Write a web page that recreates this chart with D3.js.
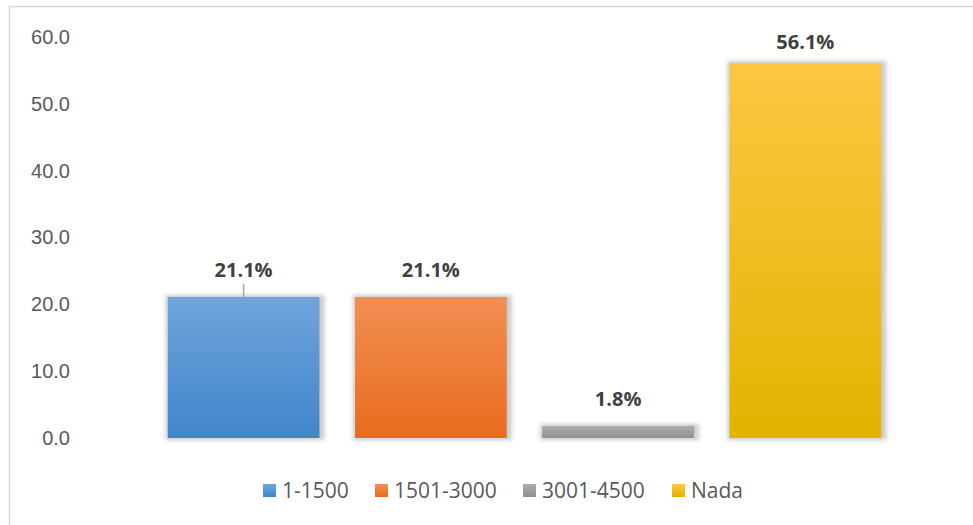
<!DOCTYPE html>
<html>
<head>
<meta charset="utf-8">
<script src="https://cdn.jsdelivr.net/npm/d3@7"></script>
<style>
  body { margin: 0; background: #fff; }
  svg { display: block; font-family: "Open Sans", "Noto Sans", sans-serif; }
</style>
</head>
<body>
<div id="chart"></div>
<script>
// datos del gráfico
const categories = ['1-1500', '1501-3000', '3001-4500', 'Nada'];
const values = [21.1, 21.1, 1.8, 56.1];
const yTicks = [0, 10, 20, 30, 40, 50, 60];
const colorsTop = ['#6fa5dc', '#f28e53', '#acacac', '#ffc642'];
const colorsBottom = ['#4185cb', '#e86c1d', '#8f8f8f', '#e3b300'];

const width = 973, height = 525;
const margin = {top: 37, right: 74, bottom: 87, left: 150};

const svg = d3.select('#chart').append('svg')
    .attr('width', width)
    .attr('height', height);

// marco
svg.append('rect')
    .attr('x', 9.5).attr('y', 6.5)
    .attr('width', width).attr('height', height)
    .attr('fill', 'none')
    .attr('stroke', '#d9d9d9')
    .attr('stroke-width', 1.5);

const defs = svg.append('defs');
categories.forEach((c, i) => {
    const g = defs.append('linearGradient')
        .attr('id', 'grad' + i)
        .attr('x1', 0).attr('y1', 0).attr('x2', 0).attr('y2', 1);
    g.append('stop').attr('offset', '0%').attr('stop-color', colorsTop[i]);
    g.append('stop').attr('offset', '100%').attr('stop-color', colorsBottom[i]);
});
defs.append('filter').attr('id', 'blur')
    .attr('x', '-20%').attr('y', '-20%').attr('width', '140%').attr('height', '140%')
    .append('feGaussianBlur').attr('stdDeviation', 2);

const x = d3.scaleBand()
    .domain(categories)
    .range([margin.left, width - margin.right])
    .paddingInner(0.19)
    .paddingOuter(0.095);

const y = d3.scaleLinear()
    .domain([0, 60])
    .range([438, margin.top]);

// eje Y (solo etiquetas)
const yAxis = svg.append('g')
    .attr('transform', 'translate(70,0)')
    .call(d3.axisLeft(y).tickValues(yTicks).tickFormat(d3.format('.1f')).tickSize(0).tickPadding(0));
yAxis.select('.domain').remove();
yAxis.selectAll('text')
    .attr('fill', '#595959')
    .style('font-size', '20px');

// sombras
svg.selectAll('.shadow')
    .data(values)
    .enter()
    .append('rect')
    .attr('class', 'shadow')
    .attr('x', (d, i) => x(categories[i]) - 2)
    .attr('y', d => y(d) - 2)
    .attr('width', x.bandwidth() + 7)
    .attr('height', d => y(0) - y(d) + 4)
    .attr('fill', '#b5b5b5')
    .attr('opacity', 0.7)
    .attr('filter', 'url(#blur)');

// barras
svg.selectAll('.bar')
    .data(values)
    .enter()
    .append('rect')
    .attr('class', 'bar')
    .attr('x', (d, i) => x(categories[i]))
    .attr('y', d => y(d))
    .attr('width', x.bandwidth())
    .attr('height', d => y(0) - y(d))
    .attr('fill', (d, i) => `url(#grad${i})`);

// línea guía de la primera etiqueta
svg.append('line')
    .attr('x1', x(categories[0]) + x.bandwidth() / 2)
    .attr('x2', x(categories[0]) + x.bandwidth() / 2)
    .attr('y1', y(values[0]) - 13)
    .attr('y2', y(values[0]))
    .attr('stroke', '#a6a6a6')
    .attr('stroke-width', 1.5);

// etiquetas
svg.selectAll('.label')
    .data(values)
    .enter()
    .append('text')
    .attr('class', 'label')
    .attr('x', (d, i) => x(categories[i]) + x.bandwidth() / 2)
    .attr('y', (d, i) => i === 3 ? y(d) - 14 : y(d) - 20)
    .attr('text-anchor', 'middle')
    .attr('fill', '#404040')
    .style('font-size', '20px')
    .style('font-weight', 'bold')
    .text(d => d.toFixed(1) + '%');

// leyenda
const legendX = [263, 375, 523, 672];
const legend = svg.selectAll('.legend')
    .data(categories)
    .enter()
    .append('g')
    .attr('class', 'legend')
    .attr('transform', (d, i) => `translate(${legendX[i]},484)`);
legend.append('rect')
    .attr('width', 13).attr('height', 13)
    .attr('fill', (d, i) => `url(#grad${i})`);
legend.append('text')
    .attr('x', 19).attr('y', 14)
    .attr('fill', '#595959')
    .style('font-size', '21px')
    .text(d => d);
</script>
</body>
</html>
